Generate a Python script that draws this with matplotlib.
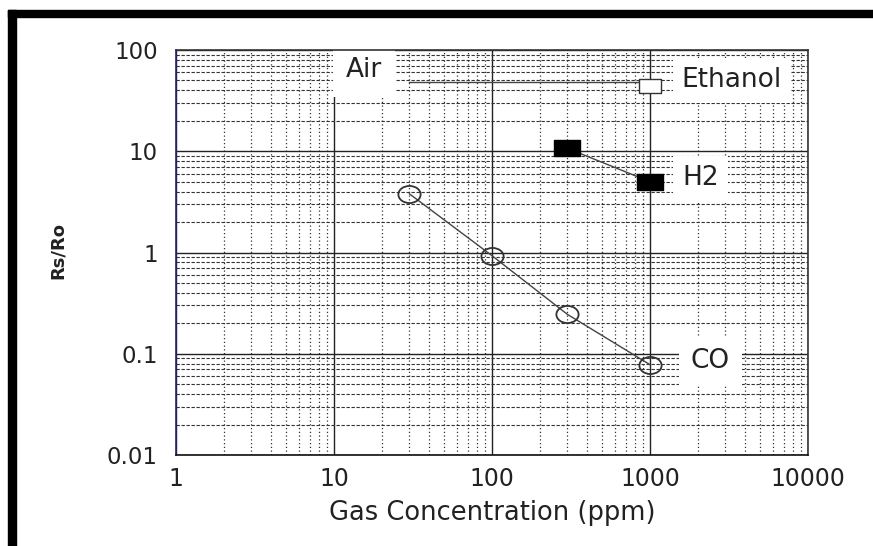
"""
Rs/Ro sensitivity chart: sensor resistance ratio vs gas concentration (log-log).
"""
import numpy as np
import matplotlib
matplotlib.use("Agg")
import matplotlib.pyplot as plt
from matplotlib.path import Path
from matplotlib.transforms import Affine2D
from matplotlib.patches import Rectangle
import matplotlib.ticker as ticker

# data
CO_X = [30, 100, 300, 1000]
CO_Y = [3.8, 0.93, 0.245, 0.078]

H2_X = [300, 1000]
H2_Y = [10.7, 5.0]

ETH_LINE_X = [30, 1000]
ETH_LINE_Y = [48, 48]
ETH_X = [1000]
ETH_Y = [44]

X_TICKS = [1, 10, 100, 1000, 10000]
X_LABELS = ['1', '10', '100', '1000', '10000']
Y_TICKS = [0.01, 0.1, 1, 10, 100]
Y_LABELS = ['0.01', '0.1', '1', '10', '100']

# label text and where it sits (data coords), plus the white box padding
LABELS = [
    ('Air', 15.5, 63, 0.5),
    ('Ethanol', 3300, 50, 0.35),
    ('H2', 2100, 5.4, 0.35),
    ('CO', 2400, 0.085, 0.45),
]

plt.rcParams['font.family'] = ['DejaVu Sans']

# stretched markers (the source image is wider than tall)
ellipse = Path.unit_circle().transformed(Affine2D().scale(1.3, 1.0))
rect = Path([(-1.6, -1), (1.6, -1), (1.6, 1), (-1.6, 1), (-1.6, -1)],
            [Path.MOVETO, Path.LINETO, Path.LINETO, Path.LINETO, Path.CLOSEPOLY])

fig = plt.figure(figsize=(8.73, 5.46), dpi=100)
ax = fig.add_axes([176 / 873, 1 - 455 / 546, 632 / 873, 405 / 546])

ax.set_xscale('log')
ax.set_yscale('log')
ax.set_xlim(1, 10000)
ax.set_ylim(0.01, 100)

# grid: solid decades, dotted / dashed minors
ax.xaxis.set_minor_locator(ticker.LogLocator(base=10, subs=np.arange(2, 10), numticks=100))
ax.yaxis.set_minor_locator(ticker.LogLocator(base=10, subs=np.arange(2, 10), numticks=100))
ax.xaxis.set_minor_formatter(ticker.NullFormatter())
ax.yaxis.set_minor_formatter(ticker.NullFormatter())
ax.grid(True, which='major', color='#222222', linewidth=1.0, linestyle='-')
ax.xaxis.grid(True, which='minor', color='#333333', linewidth=0.9, linestyle=(0, (1, 2)))
ax.yaxis.grid(True, which='minor', color='#333333', linewidth=0.8, linestyle=(0, (3, 1.5)))

ax.set_xticks(X_TICKS)
ax.set_xticklabels(X_LABELS)
ax.set_yticks(Y_TICKS)
ax.set_yticklabels(Y_LABELS)
ax.tick_params(which='both', length=0)
ax.tick_params(axis='x', labelsize=17, pad=9, colors='#222222')
ax.tick_params(axis='y', labelsize=16.5, pad=13, colors='#222222')

for side, col in [('left', '#20207a'), ('bottom', '#111111'),
                  ('top', '#333333'), ('right', '#333333')]:
    ax.spines[side].set_color(col)
    ax.spines[side].set_linewidth(1.2)
    ax.spines[side].set_zorder(2.5)

# series
ax.plot(CO_X, CO_Y, color='#444444', linewidth=1.0, zorder=3)
ax.plot(CO_X, CO_Y, linestyle='none', marker=ellipse, markersize=16,
        markerfacecolor='none', markeredgecolor='#333333', markeredgewidth=1.3, zorder=4)

ax.plot(H2_X, H2_Y, color='#444444', linewidth=1.0, zorder=3)
ax.plot(H2_X, H2_Y, linestyle='none', marker=rect, markersize=19,
        markerfacecolor='black', markeredgecolor='black', zorder=4)

ax.plot(ETH_LINE_X, ETH_LINE_Y, color='#444444', linewidth=1.0, zorder=3)
ax.plot(ETH_X, ETH_Y, linestyle='none', marker=rect, markersize=16,
        markerfacecolor='white', markeredgecolor='#333333', markeredgewidth=1.0, zorder=4)

for txt, lx, ly, pad in LABELS:
    ax.text(lx, ly, txt, fontsize=19, color='#222222', ha='center', va='center',
            zorder=2.2,
            bbox=dict(boxstyle=f'square,pad={pad}', facecolor='white', edgecolor='none'))

ax.set_xlabel('Gas Concentration (ppm)', fontsize=18.5, color='#222222', labelpad=6)
ax.set_ylabel('Rs/Ro', fontsize=13, fontweight='bold', color='#222222')
ax.yaxis.set_label_coords(-0.187, 0.504)
ax.yaxis.label.set_va('center')

# black frame bars along top and left edge of the picture
fig.patches.append(Rectangle((8 / 873, 1 - 17 / 546), 1, 7 / 546,
                             transform=fig.transFigure, color='black', zorder=10))
fig.patches.append(Rectangle((8 / 873, 0), 8 / 873, 1 - 10 / 546,
                             transform=fig.transFigure, color='black', zorder=10))

fig.savefig('out.png', dpi=100)
